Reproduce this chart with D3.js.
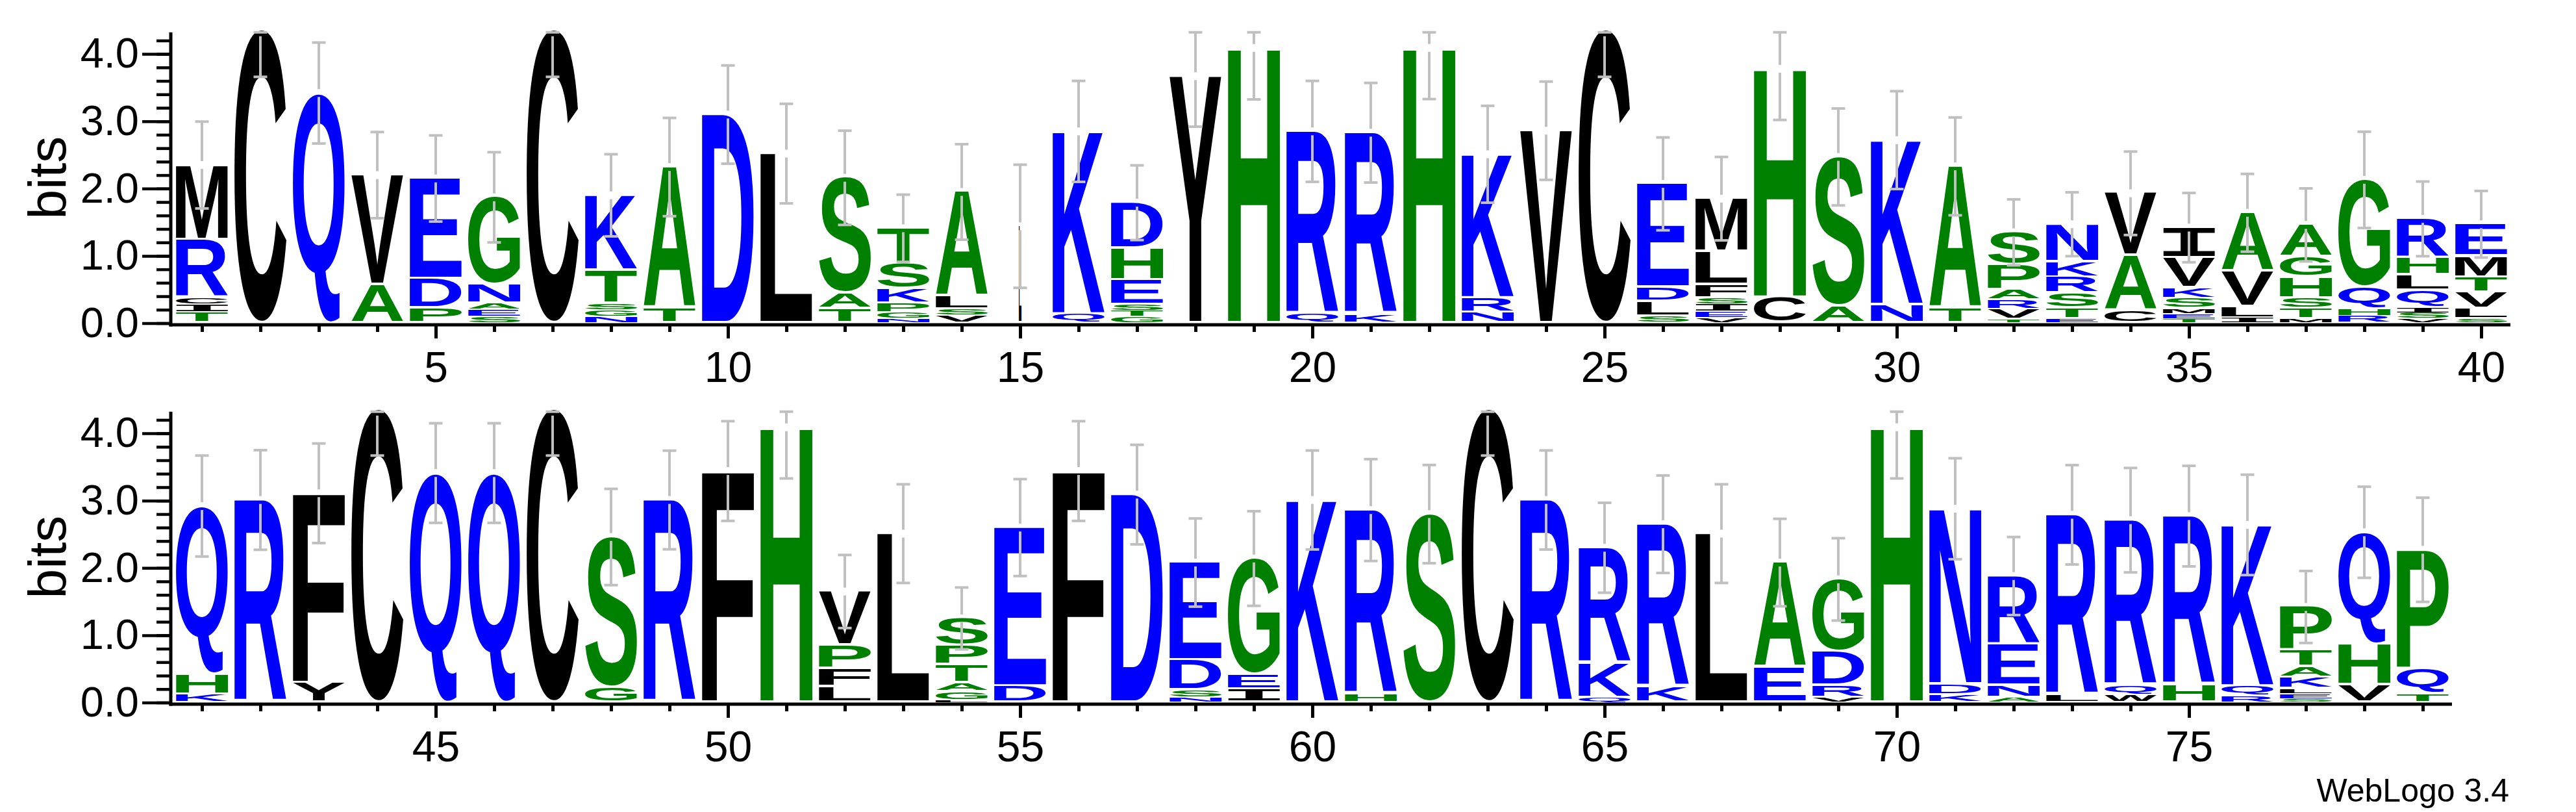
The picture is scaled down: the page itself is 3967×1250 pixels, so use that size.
<!DOCTYPE html>
<html>
<head>
<meta charset="utf-8">
<script src="https://cdn.jsdelivr.net/npm/d3@7"></script>
<style>
  body { margin: 0; background: #fff; }
  svg { display: block; }
</style>
</head>
<body>
<div id="chart"></div>
<script>
// ---- data (letters listed top to bottom, heights in bits) ----
var positions = d3.range(1, 80);

var stackLetters = [
  "MRCIT", "C", "Q", "VA", "EDP", "GNAES", "C", "KTSGN", "AT", "D",
  "L", "SAT", "TSKPGN", "ALSV", "L", "KQ", "DHESTG", "Y", "H", "RQ",
  "RK", "H", "KRN", "V", "C", "EDLS", "MLFSIEV", "HC", "SA", "KN",
  "AT", "SPARVT", "NKRSTE", "VAC", "IVKSMET", "AVLI", "AGHSTM", "GQHR", "RHLQISV", "EMTVLS",
  "QHK", "R", "FY", "C", "Q", "Q", "C", "SG", "R", "F",
  "H", "VPFL", "L", "SPTAGL", "ED", "F", "D", "EDSN", "GEI", "K",
  "RH", "S", "C", "R", "RKQ", "RK", "L", "AE", "GDRV", "H",
  "NDK", "RENA", "RL", "RQW", "RH", "KQR", "PTAKLES", "QHV", "PQT"
];

var stackBits = [
  [1.11, 0.87, 0.10, 0.12, 0.15], [4.36], [3.42], [1.63, 0.57], [1.49, 0.44, 0.22],
  [1.30, 0.28, 0.09, 0.11, 0.09], [4.36], [1.12, 0.49, 0.10, 0.10, 0.09], [2.10, 0.22], [3.10],
  [2.52], [1.72, 0.23, 0.21], [0.53, 0.37, 0.22, 0.14, 0.09, 0.06], [1.56, 0.19, 0.09, 0.11], [1.44],
  [2.72, 0.13], [0.68, 0.47, 0.37, 0.09, 0.09, 0.09], [3.67], [4.09], [2.72, 0.13],
  [2.70, 0.13], [4.09], [2.14, 0.22, 0.15], [2.86], [4.36],
  [1.54, 0.21, 0.22, 0.10], [0.79, 0.49, 0.20, 0.09, 0.12, 0.09, 0.07], [3.40, 0.38], [2.22, 0.25], [2.45, 0.27],
  [2.11, 0.22], [0.49, 0.37, 0.15, 0.14, 0.15, 0.05], [0.56, 0.23, 0.24, 0.22, 0.16, 0.06], [0.93, 0.82, 0.18],
  [0.45, 0.45, 0.16, 0.15, 0.08, 0.07, 0.06], [0.87, 0.53, 0.17, 0.07], [0.48, 0.30, 0.31, 0.16, 0.15, 0.06],
  [1.60, 0.32, 0.11, 0.10], [0.58, 0.26, 0.23, 0.26, 0.07, 0.09, 0.06], [0.48, 0.31, 0.23, 0.24, 0.15, 0.06],
  [2.50, 0.30, 0.12], [3.01], [2.82, 0.29], [4.36], [3.41],
  [3.41], [4.36], [2.24, 0.22], [3.01], [3.44],
  [4.09], [0.80, 0.35, 0.27, 0.23], [2.51], [0.41, 0.28, 0.27, 0.13, 0.13, 0.03], [2.36, 0.24],
  [3.44], [3.09], [1.45, 0.45, 0.11, 0.07], [1.73, 0.22, 0.19], [3.01],
  [2.74, 0.12], [2.80], [4.36], [3.01], [1.72, 0.51, 0.07],
  [2.42, 0.23], [2.51], [1.56, 0.52], [1.08, 0.50, 0.18, 0.07], [4.09],
  [2.61, 0.16, 0.11], [1.02, 0.61, 0.18, 0.07], [2.68, 0.11], [2.46, 0.14, 0.11], [2.51, 0.26],
  [2.40, 0.15, 0.09], [0.65, 0.24, 0.16, 0.17, 0.07, 0.08, 0.05], [1.67, 0.60, 0.26], [1.77, 0.37, 0.13]
];

// half length of the grey error bar, in bits
var errorBits = [
  0.645, 0.70, 0.75, 0.64, 0.64, 0.67, 0.70, 0.61, 0.73, 0.73,
  0.74, 0.70, 0.50, 0.71, 0.915, 0.75, 0.555, 0.75, 0.765, 0.75,
  0.74, 0.76, 0.72, 0.73, 0.70, 0.69, 0.62, 0.76, 0.72, 0.727,
  0.727, 0.49, 0.474, 0.62, 0.515, 0.578, 0.543, 0.715, 0.555, 0.495,
  0.75, 0.74, 0.74, 0.69, 0.74, 0.74, 0.69, 0.715, 0.733, 0.741,
  0.76, 0.543, 0.733, 0.46, 0.72, 0.741, 0.74, 0.655, 0.703, 0.735,
  0.757, 0.73, 0.69, 0.736, 0.668, 0.724, 0.733, 0.65, 0.612, 0.76,
  0.75, 0.58, 0.738, 0.776, 0.747, 0.746, 0.535, 0.677, 0.774
];

// stacks drawn narrower because most sequences have a gap there
var stackWeights = { 15: 0.05 };

var rowRanges = [[1, 40], [41, 79]];
var yTickValues = [0, 1, 2, 3, 4];
var yTickLabels = ["0.0", "1.0", "2.0", "3.0", "4.0"];
var xTickLabels = [5, 10, 15, 20, 25, 30, 35, 40, 45, 50, 55, 60, 65, 70, 75];

// hydrophobicity colouring
var colorGroups = [
  { letters: "RKDENQ", color: "#0000ff" },
  { letters: "SGHTAP", color: "#008000" },
  { letters: "YVMCLFIW", color: "#000000" }
];

// ---- layout ----
var W = 3967, H = 1250;
var maxBits = Math.log2(20);
var bitPx = 103.6;
var rowBase = [497.5, 1081.5];
var colW = 90, letterW = 80, plotLeft = 266, axisX = 263;
var textFont = "'Liberation Sans', Arial, Helvetica, sans-serif";

function letterColor(ch) {
  for (var i = 0; i < colorGroups.length; i++) {
    if (colorGroups[i].letters.indexOf(ch) >= 0) return colorGroups[i].color;
  }
  return "#000";
}

// tight glyph bounds, measured once per letter
var ctx = document.createElement("canvas").getContext("2d");
var glyphCache = {};
function glyphBox(ch) {
  if (glyphCache[ch]) return glyphCache[ch];
  var family = ch == "I" ? "'DejaVu Sans Mono'" : "'Liberation Sans'";
  ctx.font = "bold 200px " + family;
  var m = ctx.measureText(ch);
  glyphCache[ch] = {
    family: family,
    l: -m.actualBoundingBoxLeft,
    r: m.actualBoundingBoxRight,
    t: -m.actualBoundingBoxAscent,
    b: m.actualBoundingBoxDescent
  };
  return glyphCache[ch];
}

function drawGlyph(g, ch, x0, x1, yTop, yBot) {
  var bb = glyphBox(ch);
  var sx = (x1 - x0) / (bb.r - bb.l);
  var sy = (yBot - yTop) / (bb.b - bb.t);
  g.append("text")
    .attr("x", 0)
    .attr("y", 0)
    .attr("font-family", bb.family)
    .attr("font-weight", "bold")
    .attr("font-size", 200)
    .attr("fill", letterColor(ch))
    .attr(
      "transform",
      "translate(" + x0 + "," + yTop + ") scale(" + sx + "," + sy + ") translate(" + -bb.l + "," + -bb.t + ")"
    )
    .text(ch);
}

var svg = d3
  .select("#chart")
  .append("svg")
  .attr("width", W)
  .attr("height", H);

svg.append("rect").attr("width", W).attr("height", H).attr("fill", "#fff");

rowRanges.forEach(function (range, r) {
  var first = range[0], last = range[1];
  var base = rowBase[r];
  var rowPos = positions.filter(function (p) { return p >= first && p <= last; });

  var x = d3
    .scaleLinear()
    .domain([first - 0.5, last + 0.5])
    .range([plotLeft, plotLeft + (last - first + 1) * colW]);
  var y = d3
    .scaleLinear()
    .domain([0, maxBits])
    .range([base, base - maxBits * bitPx]);

  var row = svg.append("g").attr("class", "row" + r);

  // letter stacks
  var stacks = row.append("g").attr("class", "stacks");
  rowPos.forEach(function (p) {
    var letters = stackLetters[p - 1].split("");
    var bits = stackBits[p - 1];
    var w = letterW * (stackWeights[p] || 1);
    var cx = x(p);
    var cum = 0;
    for (var k = letters.length - 1; k >= 0; k--) {
      var yb = y(cum), yt = y(cum + bits[k]);
      var gap = Math.min(3.5, (yb - yt) * 0.2);
      drawGlyph(stacks, letters[k], cx - w / 2, cx + w / 2, yt, yb - gap);
      cum += bits[k];
    }
  });

  // error bars, broken where they cross the top of the stack
  var bars = row.append("g").attr("stroke", "#c0c0c0").attr("stroke-width", 4);
  rowPos.forEach(function (p) {
    var total = d3.sum(stackBits[p - 1]);
    var e = errorBits[p - 1];
    var cx = x(p);
    var yc = y(Math.min(total, maxBits));
    var yHi = y(Math.min(maxBits, total + e));
    var yLo = y(Math.max(0, total - e));
    if (yc - 6 > yHi) {
      bars.append("line").attr("x1", cx).attr("x2", cx).attr("y1", yc - 6).attr("y2", yHi);
    }
    bars.append("line").attr("x1", cx).attr("x2", cx).attr("y1", yc + 6).attr("y2", yLo);
    bars.append("line").attr("x1", cx - 10.5).attr("x2", cx + 10.5).attr("y1", yHi).attr("y2", yHi);
    bars.append("line").attr("x1", cx - 10.5).attr("x2", cx + 10.5).attr("y1", yLo).attr("y2", yLo);
  });

  // y axis
  var yMinor = d3
    .axisLeft(y)
    .tickValues(d3.range(0, 22).map(function (i) { return i * 0.2; }))
    .tickSize(22)
    .tickSizeOuter(0)
    .tickFormat("");
  var yMajor = d3
    .axisLeft(y)
    .tickValues(yTickValues)
    .tickSize(44)
    .tickSizeOuter(0)
    .tickPadding(5)
    .tickFormat(function (d, i) { return yTickLabels[i]; });

  row.append("g").attr("transform", "translate(" + axisX + ",0)").call(yMinor);
  row.append("g").attr("class", "ymajor").attr("transform", "translate(" + axisX + ",0)").call(yMajor);
  row.selectAll(".domain").remove();
  row.selectAll(".tick line").attr("stroke", "#000").attr("stroke-width", 4.5);
  row.selectAll(".ymajor text")
    .attr("font-family", textFont)
    .attr("font-size", 65)
    .attr("fill", "#000");

  row.append("line")
    .attr("x1", axisX).attr("x2", axisX)
    .attr("y1", y(maxBits)).attr("y2", base + 5)
    .attr("stroke", "#000").attr("stroke-width", 5);

  row.append("text")
    .attr("transform", "translate(101," + (base + y(maxBits)) / 2 + ") rotate(-90)")
    .attr("text-anchor", "middle")
    .attr("font-family", textFont)
    .attr("font-size", 82)
    .text("bits");

  // x axis
  var xMinor = d3.axisBottom(x).tickValues(rowPos).tickSize(11).tickSizeOuter(0).tickFormat("");
  var xMajor = d3
    .axisBottom(x)
    .tickValues(xTickLabels.filter(function (v) { return v >= first && v <= last; }))
    .tickSize(21)
    .tickSizeOuter(0)
    .tickPadding(20);

  var xa1 = row.append("g").attr("transform", "translate(0," + (base + 2.5) + ")").call(xMinor);
  var xa2 = row.append("g").attr("transform", "translate(0," + (base + 2.5) + ")").call(xMajor);
  xa1.select(".domain").remove();
  xa2.select(".domain").remove();
  xa1.selectAll(".tick line").attr("stroke", "#000").attr("stroke-width", 5);
  xa2.selectAll(".tick line").attr("stroke", "#000").attr("stroke-width", 5);
  xa2.selectAll("text")
    .attr("font-family", textFont)
    .attr("font-size", 66)
    .attr("fill", "#000");

  row.append("line")
    .attr("x1", axisX - 2.5).attr("x2", x(last + 0.5))
    .attr("y1", base + 2.5).attr("y2", base + 2.5)
    .attr("stroke", "#000").attr("stroke-width", 5);
});

svg.append("text")
  .attr("x", 3864)
  .attr("y", 1234)
  .attr("text-anchor", "end")
  .attr("font-family", textFont)
  .attr("font-size", 50)
  .text("WebLogo 3.4");
</script>
</body>
</html>
